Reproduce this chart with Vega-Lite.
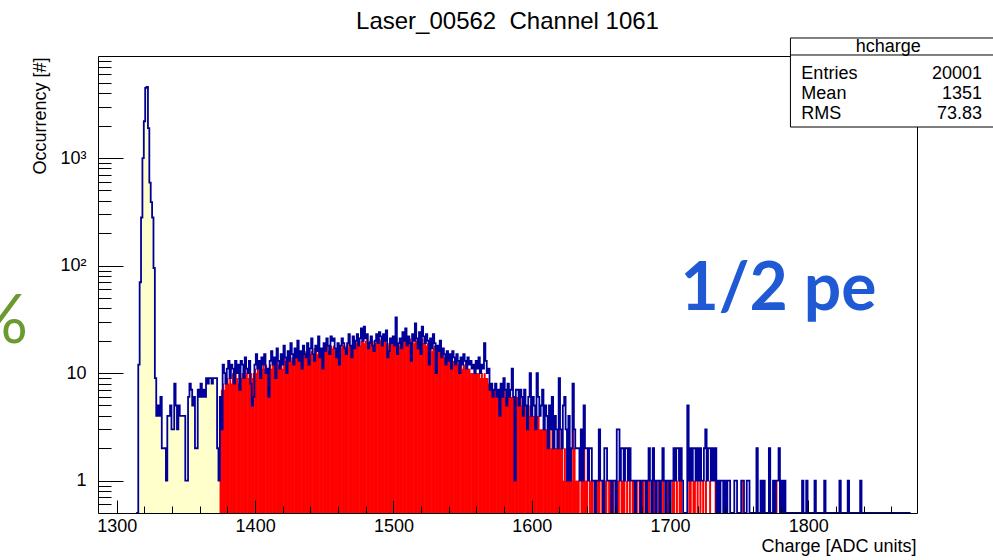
{
"$schema": "https://vega.github.io/schema/vega-lite/v6.json",
"width": 819, "height": 457,
"autosize": "none",
"padding": {"left": 98, "top": 56, "right": 76, "bottom": 47},
"background": "white",
"title": {"text": "Laser_00562\u00a0 Channel 1061", "font": "Liberation Sans", "fontSize": 24, "fontWeight": "normal", "color": "black", "anchor": "middle", "frame": "group", "baseline": "alphabetic", "offset": 27, "dy": 43},
"datasets": {"h": [
{"x":1314,"n":0},{"x":1315,"n":0},{"x":1316,"n":12},{"x":1317,"n":70},{"x":1318,"n":280},{"x":1319,"n":1000},{"x":1320,"n":2200},{"x":1321,"n":4500},{"x":1322,"n":4600},{"x":1323,"n":1900},{"x":1324,"n":590},{"x":1325,"n":390},{"x":1326,"n":280},{"x":1327,"n":95},{"x":1328,"n":9},{"x":1329,"n":4},{"x":1330,"n":5},{"x":1331,"n":4},{"x":1332,"n":6},{"x":1333,"n":2},{"x":1334,"n":2},{"x":1335,"n":2},{"x":1336,"n":1},{"x":1337,"n":4},{"x":1338,"n":4},{"x":1339,"n":5},{"x":1340,"n":3},{"x":1341,"n":3},{"x":1342,"n":8},{"x":1343,"n":5},{"x":1344,"n":3},{"x":1345,"n":5},{"x":1346,"n":4},{"x":1347,"n":4},{"x":1348,"n":4},{"x":1349,"n":4},{"x":1350,"n":1},{"x":1351,"n":1},{"x":1352,"n":6},{"x":1353,"n":8},{"x":1354,"n":7},{"x":1355,"n":5},{"x":1356,"n":6},{"x":1357,"n":2},{"x":1358,"n":2},{"x":1359,"n":7},{"x":1360,"n":6},{"x":1361,"n":8},{"x":1362,"n":6},{"x":1363,"n":7},{"x":1364,"n":6},{"x":1365,"n":9},{"x":1366,"n":8},{"x":1367,"n":9},{"x":1368,"n":9},{"x":1369,"n":8},{"x":1370,"n":9},{"x":1371,"n":9},{"x":1372,"n":9},{"x":1373,"n":2},{"x":1374,"n":1},
{"x":1375,"n":6,"r":6},{"x":1376,"n":3,"r":7},{"x":1377,"n":12,"r":8},{"x":1378,"n":10,"r":7},{"x":1379,"n":8,"r":8},{"x":1380,"n":11,"r":9},{"x":1381,"n":13,"r":8},{"x":1382,"n":9,"r":9},{"x":1383,"n":12,"r":8},{"x":1384,"n":11,"r":10},{"x":1385,"n":8,"r":9},{"x":1386,"n":13,"r":10},{"x":1387,"n":10,"r":9},{"x":1388,"n":12,"r":8},{"x":1389,"n":7,"r":10},{"x":1390,"n":13,"r":9},{"x":1391,"n":12,"r":10},{"x":1392,"n":9,"r":9},{"x":1393,"n":14,"r":11},{"x":1394,"n":11,"r":10},{"x":1395,"n":10,"r":9},{"x":1396,"n":13,"r":11},{"x":1397,"n":8,"r":10},{"x":1398,"n":5,"r":9},{"x":1399,"n":6,"r":10},
{"x":1400,"n":12,"r":11},{"x":1401,"n":15,"r":10},{"x":1402,"n":11,"r":11},{"x":1403,"n":13,"r":12},{"x":1404,"n":9,"r":10},{"x":1405,"n":14,"r":11},{"x":1406,"n":12,"r":12},{"x":1407,"n":15,"r":11},{"x":1408,"n":10,"r":12},{"x":1409,"n":11,"r":10},{"x":1410,"n":6,"r":11},{"x":1411,"n":13,"r":12},{"x":1412,"n":16,"r":11},{"x":1413,"n":12,"r":13},{"x":1414,"n":14,"r":12},{"x":1415,"n":9,"r":11},{"x":1416,"n":17,"r":13},{"x":1417,"n":13,"r":12},{"x":1418,"n":11,"r":12},{"x":1419,"n":15,"r":13},{"x":1420,"n":12,"r":11},{"x":1421,"n":18,"r":14},{"x":1422,"n":14,"r":13},{"x":1423,"n":10,"r":12},{"x":1424,"n":16,"r":13},{"x":1425,"n":13,"r":14},{"x":1426,"n":19,"r":13},{"x":1427,"n":15,"r":14},{"x":1428,"n":12,"r":13},{"x":1429,"n":17,"r":14},
{"x":1430,"n":14,"r":15},{"x":1431,"n":20,"r":14},{"x":1432,"n":13,"r":15},{"x":1433,"n":16,"r":14},{"x":1434,"n":11,"r":13},{"x":1435,"n":18,"r":15},{"x":1436,"n":15,"r":16},{"x":1437,"n":14,"r":14},{"x":1438,"n":19,"r":15},{"x":1439,"n":12,"r":16},{"x":1440,"n":17,"r":15},{"x":1441,"n":21,"r":16},{"x":1442,"n":15,"r":15},{"x":1443,"n":13,"r":17},{"x":1444,"n":18,"r":16},{"x":1445,"n":16,"r":15},{"x":1446,"n":22,"r":17},{"x":1447,"n":14,"r":16},{"x":1448,"n":17,"r":17},{"x":1449,"n":11,"r":15},{"x":1450,"n":19,"r":16},{"x":1451,"n":16,"r":17},{"x":1452,"n":21,"r":18},{"x":1453,"n":18,"r":16},{"x":1454,"n":15,"r":17},{"x":1455,"n":22,"r":18},{"x":1456,"n":20,"r":17},{"x":1457,"n":21,"r":18},{"x":1458,"n":17,"r":16},{"x":1459,"n":14,"r":17},
{"x":1460,"n":19,"r":18},{"x":1461,"n":12,"r":16},{"x":1462,"n":18,"r":17},{"x":1463,"n":21,"r":19},{"x":1464,"n":19,"r":18},{"x":1465,"n":17,"r":17},{"x":1466,"n":15,"r":18},{"x":1467,"n":19,"r":17},{"x":1468,"n":23,"r":19},{"x":1469,"n":18,"r":18},{"x":1470,"n":14,"r":17},{"x":1471,"n":22,"r":19},{"x":1472,"n":17,"r":18},{"x":1473,"n":20,"r":19},{"x":1474,"n":23,"r":20},{"x":1475,"n":18,"r":19},{"x":1476,"n":21,"r":18},{"x":1477,"n":26,"r":20},{"x":1478,"n":20,"r":21},{"x":1479,"n":27,"r":19},{"x":1480,"n":21,"r":20},{"x":1481,"n":23,"r":21},{"x":1482,"n":17,"r":19},{"x":1483,"n":19,"r":20},{"x":1484,"n":22,"r":19},{"x":1485,"n":18,"r":20},{"x":1486,"n":16,"r":18},{"x":1487,"n":20,"r":19},{"x":1488,"n":23,"r":21},{"x":1489,"n":19,"r":20},
{"x":1490,"n":24,"r":21},{"x":1491,"n":22,"r":20},{"x":1492,"n":18,"r":19},{"x":1493,"n":23,"r":21},{"x":1494,"n":20,"r":20},{"x":1495,"n":25,"r":19},{"x":1496,"n":14,"r":18},{"x":1497,"n":16,"r":19},{"x":1498,"n":21,"r":20},{"x":1499,"n":19,"r":21},{"x":1500,"n":22,"r":20},{"x":1501,"n":18,"r":22},{"x":1502,"n":33,"r":21},{"x":1503,"n":15,"r":19},{"x":1504,"n":19,"r":18},{"x":1505,"n":21,"r":20},{"x":1506,"n":17,"r":19},{"x":1507,"n":24,"r":21},{"x":1508,"n":20,"r":20},{"x":1509,"n":26,"r":22},{"x":1510,"n":18,"r":20},{"x":1511,"n":22,"r":19},{"x":1512,"n":19,"r":21},{"x":1513,"n":13,"r":18},{"x":1514,"n":23,"r":20},{"x":1515,"n":20,"r":19},{"x":1516,"n":29,"r":21},{"x":1517,"n":21,"r":20},{"x":1518,"n":17,"r":19},{"x":1519,"n":24,"r":20},
{"x":1520,"n":15,"r":18},{"x":1521,"n":27,"r":21},{"x":1522,"n":22,"r":19},{"x":1523,"n":19,"r":20},{"x":1524,"n":23,"r":18},{"x":1525,"n":20,"r":19},{"x":1526,"n":12,"r":17},{"x":1527,"n":21,"r":18},{"x":1528,"n":17,"r":16},{"x":1529,"n":23,"r":17},{"x":1530,"n":19,"r":18},{"x":1531,"n":10,"r":16},{"x":1532,"n":18,"r":16},{"x":1533,"n":16,"r":16},{"x":1534,"n":20,"r":16},{"x":1535,"n":14,"r":15},{"x":1536,"n":17,"r":15},{"x":1537,"n":15,"r":14},{"x":1538,"n":12,"r":14},{"x":1539,"n":16,"r":14},{"x":1540,"n":13,"r":13},{"x":1541,"n":15,"r":13},{"x":1542,"n":11,"r":12},{"x":1543,"n":16,"r":13},{"x":1544,"n":14,"r":13},{"x":1545,"n":12,"r":12},{"x":1546,"n":15,"r":13},{"x":1547,"n":13,"r":12},{"x":1548,"n":10,"r":11},{"x":1549,"n":14,"r":12},
{"x":1550,"n":12,"r":11},{"x":1551,"n":15,"r":12},{"x":1552,"n":13,"r":11},{"x":1553,"n":11,"r":11},{"x":1554,"n":14,"r":11},{"x":1555,"n":12,"r":11},{"x":1556,"n":13,"r":10},{"x":1557,"n":11,"r":10},{"x":1558,"n":12,"r":10},{"x":1559,"n":10,"r":10},{"x":1560,"n":13,"r":10},{"x":1561,"n":11,"r":10},{"x":1562,"n":14,"r":10},{"x":1563,"n":10,"r":9},{"x":1564,"n":12,"r":10},{"x":1565,"n":11,"r":9},{"x":1566,"n":19,"r":10},{"x":1567,"n":13,"r":9},{"x":1568,"n":10,"r":9},{"x":1569,"n":11,"r":8},{"x":1570,"n":7,"r":7},{"x":1571,"n":8,"r":7},{"x":1572,"n":6,"r":7},{"x":1573,"n":7,"r":7},{"x":1574,"n":8,"r":7},{"x":1575,"n":6,"r":7},{"x":1576,"n":7,"r":7},{"x":1577,"n":4,"r":6},{"x":1578,"n":8,"r":7},{"x":1579,"n":6,"r":6},
{"x":1580,"n":9,"r":7},{"x":1581,"n":7,"r":6},{"x":1582,"n":5,"r":6},{"x":1583,"n":8,"r":6},{"x":1584,"n":6,"r":6},{"x":1585,"n":7,"r":6},{"x":1586,"n":11,"r":6},{"x":1587,"n":6,"r":6},{"x":1588,"n":1,"r":5},{"x":1589,"n":7,"r":6},{"x":1590,"n":7,"r":6},{"x":1591,"n":5,"r":5},{"x":1592,"n":7,"r":6},{"x":1593,"n":6,"r":5},{"x":1594,"n":4,"r":5},{"x":1595,"n":7,"r":5},{"x":1596,"n":5,"r":5},{"x":1597,"n":3,"r":4},{"x":1598,"n":6,"r":4},{"x":1599,"n":10,"r":5},{"x":1600,"n":4,"r":4},{"x":1601,"n":6,"r":4},{"x":1602,"n":5,"r":4},{"x":1603,"n":3,"r":3},{"x":1604,"n":10,"r":4},{"x":1605,"n":6,"r":4},{"x":1606,"n":4,"r":3},{"x":1607,"n":5,"r":3},{"x":1608,"n":7,"r":3},{"x":1609,"n":3,"r":3},
{"x":1610,"n":5,"r":3},{"x":1611,"n":4,"r":3},{"x":1612,"n":2,"r":2},{"x":1613,"n":5,"r":3},{"x":1614,"n":3,"r":2},{"x":1615,"n":6,"r":3},{"x":1616,"n":2,"r":2},{"x":1617,"n":4,"r":2},{"x":1618,"n":3,"r":2},{"x":1619,"n":2,"r":2},{"x":1620,"n":9,"r":3},{"x":1621,"n":3,"r":2},{"x":1622,"n":2,"r":2},{"x":1623,"n":5,"r":1},{"x":1624,"n":6,"r":2},{"x":1625,"n":3,"r":1},{"x":1626,"n":1,"r":1},{"x":1627,"n":4,"r":2},{"x":1628,"n":1,"r":1},{"x":1629,"n":2,"r":1},{"x":1630,"n":8,"r":3},{"x":1631,"n":3,"r":2},{"x":1632,"n":2,"r":1},{"x":1633,"n":2,"r":1},{"x":1634,"n":2,"r":1},{"x":1635,"n":1,"r":0},{"x":1636,"n":3,"r":1},{"x":1637,"n":1,"r":1},{"x":1638,"n":5,"r":2},{"x":1639,"n":2,"r":1},
{"x":1640,"n":2,"r":1},{"x":1641,"n":1,"r":0},{"x":1642,"n":2,"r":1},{"x":1643,"n":2,"r":1},{"x":1644,"n":1,"r":1},{"x":1645,"n":1,"r":0},{"x":1646,"n":0,"r":1},{"x":1647,"n":1,"r":1},{"x":1648,"n":1,"r":1},{"x":1649,"n":3,"r":1},{"x":1650,"n":1,"r":0},{"x":1651,"n":1,"r":1},{"x":1652,"n":0,"r":0},{"x":1653,"n":2,"r":1},{"x":1654,"n":2,"r":1},{"x":1655,"n":1,"r":0},{"x":1656,"n":1,"r":1},{"x":1657,"n":1,"r":1},{"x":1658,"n":0,"r":1},{"x":1659,"n":1,"r":1},{"x":1660,"n":1,"r":0},{"x":1661,"n":0,"r":0},{"x":1662,"n":3,"r":1},{"x":1663,"n":3,"r":1},{"x":1664,"n":1,"r":0},{"x":1665,"n":2,"r":1},{"x":1666,"n":2,"r":1},{"x":1667,"n":1,"r":1},{"x":1668,"n":2,"r":0},{"x":1669,"n":2,"r":1},
{"x":1670,"n":1,"r":0},{"x":1671,"n":2,"r":1},{"x":1672,"n":1,"r":0},{"x":1673,"n":1,"r":1},{"x":1674,"n":1,"r":1},{"x":1675,"n":0,"r":0},{"x":1676,"n":1,"r":1},{"x":1677,"n":1,"r":0},{"x":1678,"n":1,"r":1},{"x":1679,"n":0,"r":0},{"x":1680,"n":1,"r":1},{"x":1681,"n":1,"r":1},{"x":1682,"n":1,"r":0},{"x":1683,"n":0,"r":0},{"x":1684,"n":1,"r":1},{"x":1685,"n":2,"r":1},{"x":1686,"n":1,"r":0},{"x":1687,"n":0,"r":0},{"x":1688,"n":2,"r":1},{"x":1689,"n":1,"r":1},{"x":1690,"n":0,"r":0},{"x":1691,"n":1,"r":0},{"x":1692,"n":1,"r":1},{"x":1693,"n":0,"r":0},{"x":1694,"n":1,"r":0},{"x":1695,"n":2,"r":1},{"x":1696,"n":1,"r":0},{"x":1697,"n":0,"r":0},{"x":1698,"n":1,"r":1},{"x":1699,"n":1,"r":1},
{"x":1700,"n":0,"r":0},{"x":1701,"n":1,"r":0},{"x":1702,"n":1,"r":1},{"x":1703,"n":2,"r":1},{"x":1704,"n":1,"r":0},{"x":1705,"n":2,"r":1},{"x":1706,"n":2,"r":0},{"x":1707,"n":1,"r":1},{"x":1708,"n":2,"r":1},{"x":1709,"n":1,"r":0},{"x":1710,"n":0},{"x":1711,"n":0},{"x":1712,"n":0},{"x":1713,"n":5},{"x":1714,"n":1,"r":1},{"x":1715,"n":2,"r":1},{"x":1716,"n":1},{"x":1717,"n":2,"r":1},{"x":1718,"n":2,"r":1},{"x":1719,"n":1},{"x":1720,"n":2,"r":1},{"x":1721,"n":1},{"x":1722,"n":2,"r":1},{"x":1723,"n":1},{"x":1724,"n":1,"r":1},{"x":1725,"n":2},{"x":1726,"n":3,"r":1},{"x":1727,"n":1},{"x":1728,"n":2},{"x":1729,"n":2,"r":1},
{"x":1730,"n":1},{"x":1731,"n":2},{"x":1732,"n":1},{"x":1733,"n":2,"r":1},{"x":1734,"n":0},{"x":1735,"n":1},{"x":1736,"n":0},{"x":1737,"n":1},{"x":1738,"n":1},{"x":1739,"n":0},{"x":1740,"n":1},{"x":1741,"n":0},{"x":1742,"n":1},{"x":1743,"n":1},{"x":1744,"n":0},{"x":1745,"n":0},{"x":1746,"n":0},{"x":1747,"n":1},{"x":1748,"n":1},{"x":1749,"n":0},{"x":1750,"n":0},{"x":1751,"n":0},{"x":1752,"n":1,"r":1},{"x":1753,"n":1},{"x":1754,"n":0},{"x":1755,"n":0},{"x":1756,"n":1},{"x":1757,"n":1},{"x":1758,"n":0},{"x":1759,"n":0},
{"x":1760,"n":0},{"x":1761,"n":0},{"x":1762,"n":0},{"x":1763,"n":2},{"x":1764,"n":0},{"x":1765,"n":0},{"x":1766,"n":1},{"x":1767,"n":0},{"x":1768,"n":1},{"x":1769,"n":0},{"x":1770,"n":0},{"x":1771,"n":0},{"x":1772,"n":2},{"x":1773,"n":0},{"x":1774,"n":0},{"x":1775,"n":1,"r":1},{"x":1776,"n":0},{"x":1777,"n":1,"r":1},{"x":1778,"n":1},{"x":1779,"n":2},{"x":1780,"n":0},{"x":1781,"n":1},{"x":1782,"n":0},{"x":1783,"n":1},{"x":1784,"n":0},{"x":1785,"n":0},{"x":1786,"n":0},{"x":1787,"n":0},{"x":1788,"n":0},{"x":1789,"n":0},
{"x":1790,"n":0},{"x":1791,"n":0},{"x":1792,"n":0},{"x":1793,"n":0},{"x":1794,"n":0},{"x":1795,"n":0},{"x":1796,"n":1},{"x":1797,"n":0},{"x":1798,"n":0},{"x":1799,"n":1},{"x":1800,"n":0},{"x":1801,"n":0},{"x":1802,"n":0},{"x":1803,"n":0},{"x":1804,"n":0},{"x":1805,"n":1},{"x":1806,"n":0},{"x":1807,"n":0},{"x":1808,"n":0},{"x":1809,"n":0},{"x":1810,"n":0},{"x":1811,"n":0},{"x":1812,"n":1},{"x":1813,"n":0},{"x":1814,"n":0},{"x":1815,"n":0},{"x":1816,"n":0},{"x":1817,"n":0},{"x":1818,"n":0},{"x":1819,"n":0},
{"x":1820,"n":0},{"x":1821,"n":0},{"x":1822,"n":0},{"x":1823,"n":1},{"x":1824,"n":0},{"x":1825,"n":0},{"x":1826,"n":0},{"x":1827,"n":0},{"x":1828,"n":0},{"x":1829,"n":1},{"x":1830,"n":0},{"x":1831,"n":0},{"x":1832,"n":0},{"x":1833,"n":0},{"x":1834,"n":0},{"x":1835,"n":0},{"x":1836,"n":0},{"x":1837,"n":0},{"x":1838,"n":1},{"x":1839,"n":0},{"x":1840,"n":0},{"x":1845,"n":0},{"x":1850,"n":0},{"x":1860,"n":0},{"x":1874,"n":0}
]},
"resolve": {"scale": {"y": "independent"}, "axis": {"x": "independent", "y": "independent"}},
"layer": [
{
"data": {"name": "h"},
"transform": [{"filter": "datum.x <= 1374 && datum.n > 0"}],
"mark": {"type": "bar", "color": "#ffffcc", "width": 2},
"encoding": {
"x": {"field": "x", "type": "quantitative",
"scale": {"domain": [1290, 1875], "nice": false, "zero": false},
"axis": {"orient": "bottom", "values": [1300,1400,1500,1600,1700,1800], "format": "d", "ticks": false, "domain": false, "grid": false, "labelFlush": false, "labelOverlap": false, "labelFont": "Liberation Sans", "labelFontSize": 18, "labelColor": "black", "labelPadding": 4,
"title": "Charge [ADC units]", "titleFont": "Liberation Sans", "titleFontSize": 18, "titleFontWeight": "normal", "titleColor": "black", "titleAlign": "right", "titleBaseline": "alphabetic", "titleX": 818, "titleY": 38}},
"y": {"field": "n", "type": "quantitative", "stack": null,
"scale": {"type": "log", "domain": [0.5, 8900], "nice": false, "clamp": true},
"axis": {"orient": "left", "values": [1,10,100,1000], "labelExpr": "datum.value >= 1000 ? '10³' : datum.value >= 100 ? '10²' : datum.value >= 10 ? '10' : '1'", "ticks": false, "domain": false, "grid": false, "labelFlush": false, "labelOverlap": false, "labelFont": "Liberation Sans", "labelFontSize": 18, "labelColor": "black", "labelPadding": 12, "labelBaseline": "middle",
"title": "Occurrency [#]", "titleFont": "Liberation Sans", "titleFontSize": 18, "titleFontWeight": "normal", "titleColor": "black", "titleAngle": -90, "titleAlign": "right", "titleBaseline": "bottom", "titleX": -49, "titleY": 1}}
}
},
{
"data": {"name": "h"},
"transform": [{"filter": "datum.x >= 1375 && datum.r > 0"}],
"mark": {"type": "bar", "color": "#ff0000", "width": 2},
"encoding": {
"x": {"field": "x", "type": "quantitative",
"axis": {"orient": "bottom", "values": [1300,1400,1500,1600,1700,1800], "labels": false, "grid": false, "domain": true, "domainColor": "black", "domainWidth": 1, "ticks": true, "tickSize": -13, "tickColor": "black", "tickWidth": 1, "title": null, "zindex": 1}},
"y": {"field": "r", "type": "quantitative", "stack": null,
"scale": {"type": "log", "domain": [0.5, 8900], "nice": false, "clamp": true},
"axis": {"orient": "left", "values": [1,10,100,1000], "labels": false, "grid": false, "domain": true, "domainColor": "black", "domainWidth": 1, "ticks": true, "tickSize": -25, "tickColor": "black", "tickWidth": 1, "title": null, "zindex": 1}}
}
},
{
"data": {"name": "h"},
"mark": {"type": "line", "interpolate": "step", "color": "#000099", "strokeWidth": 1.8},
"encoding": {
"x": {"field": "x", "type": "quantitative",
"axis": {"orient": "bottom", "values": [1320,1340,1360,1380,1420,1440,1460,1480,1520,1540,1560,1580,1620,1640,1660,1680,1720,1740,1760,1780,1820,1840,1860], "labels": false, "domain": false, "grid": false, "ticks": true, "tickSize": -7, "tickColor": "black", "tickWidth": 1, "title": null, "zindex": 1}},
"y": {"field": "n", "type": "quantitative",
"scale": {"type": "log", "domain": [0.5, 8900], "nice": false, "clamp": true},
"axis": {"orient": "left", "values": [0.6,0.7,0.8,0.9,2,3,4,5,6,7,8,9,20,30,40,50,60,70,80,90,200,300,400,500,600,700,800,900,2000,3000,4000,5000,6000,7000,8000], "labels": false, "domain": false, "grid": false, "ticks": true, "tickSize": -13, "tickColor": "black", "tickWidth": 1, "title": null, "zindex": 1}}
}
},
{
"data": {"values": [{}]},
"mark": {"type": "rect", "fill": "white", "stroke": "black", "strokeWidth": 1, "clip": false},
"encoding": {
"x": {"datum": 1787.1, "type": "quantitative",
"axis": {"orient": "top", "labels": false, "ticks": false, "grid": false, "domain": true, "domainColor": "black", "domainWidth": 1, "title": null, "zindex": 0}},
"x2": {"datum": 1934},
"y": {"datum": 13088, "type": "quantitative",
"scale": {"type": "log", "domain": [0.5, 8900], "nice": false},
"axis": {"orient": "right", "labels": false, "ticks": false, "grid": false, "domain": true, "domainColor": "black", "domainWidth": 1, "title": null, "zindex": 0}},
"y2": {"datum": 1945}
}
},
{
"data": {"values": [{}]},
"mark": {"type": "rule", "color": "black", "strokeWidth": 1, "clip": false},
"encoding": {
"x": {"datum": 1787.1, "type": "quantitative", "axis": null},
"x2": {"datum": 1934},
"y": {"datum": 9093, "type": "quantitative", "scale": {"type": "log", "domain": [0.5, 8900], "nice": false}, "axis": null}
}
},
{
"data": {"values": [{}]},
"mark": {"type": "text", "font": "Liberation Sans", "fontSize": 18, "color": "black", "align": "center", "baseline": "middle", "clip": false},
"encoding": {
"x": {"datum": 1857.9, "type": "quantitative", "axis": null},
"y": {"datum": 10793, "type": "quantitative", "scale": {"type": "log", "domain": [0.5, 8900], "nice": false}, "axis": null},
"text": {"value": "hcharge"}
}
},
{
"data": {"values": [{}]},
"mark": {"type": "text", "font": "Liberation Sans", "fontSize": 18, "color": "black", "align": "left", "baseline": "alphabetic", "lineHeight": 20, "clip": false},
"encoding": {
"x": {"datum": 1795, "type": "quantitative", "axis": null},
"y": {"datum": 5439, "type": "quantitative", "scale": {"type": "log", "domain": [0.5, 8900], "nice": false}, "axis": null},
"text": {"value": ["Entries", "Mean", "RMS"]}
}
},
{
"data": {"values": [{}]},
"mark": {"type": "text", "font": "Liberation Sans", "fontSize": 18, "color": "black", "align": "right", "baseline": "alphabetic", "lineHeight": 20, "clip": false},
"encoding": {
"x": {"datum": 1925.7, "type": "quantitative", "axis": null},
"y": {"datum": 5439, "type": "quantitative", "scale": {"type": "log", "domain": [0.5, 8900], "nice": false}, "axis": null},
"text": {"value": ["20001", "1351", "73.83"]}
}
},
{
"data": {"values": [{}]},
"mark": {"type": "text", "font": "Lato", "fontSize": 66, "fontWeight": "bold", "color": "#1f5ad4", "align": "center", "baseline": "alphabetic", "clip": false},
"encoding": {
"x": {"datum": 1778.5, "type": "quantitative", "axis": null},
"y": {"datum": 38.6, "type": "quantitative", "scale": {"type": "log", "domain": [0.5, 8900], "nice": false}, "axis": null},
"text": {"value": "1/2 pe"}
}
},
{
"data": {"values": [{}]},
"mark": {"type": "text", "font": "Lato", "fontSize": 68, "color": "#6b9a2e", "align": "right", "baseline": "alphabetic", "clip": false},
"encoding": {
"x": {"datum": 1235.7, "type": "quantitative", "axis": null},
"y": {"datum": 19, "type": "quantitative", "scale": {"type": "log", "domain": [0.5, 8900], "nice": false}, "axis": null},
"text": {"value": "%"}
}
}
],
"config": {
"view": {"stroke": null},
"font": "Liberation Sans"
}
}
